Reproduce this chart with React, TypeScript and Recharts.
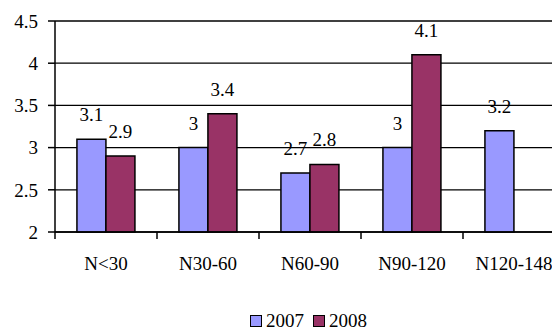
import React from 'react';
import { BarChart, Bar, XAxis, YAxis, CartesianGrid, LabelList, Legend } from 'recharts';

const categories = ['N<30', 'N30-60', 'N60-90', 'N90-120', 'N120-148'];
const values2007 = [3.1, 3, 2.7, 3, 3.2];
const values2008: (number | null)[] = [2.9, 3.4, 2.8, 4.1, null];
const yTicks = [2, 2.5, 3, 3.5, 4, 4.5];
const seriesNames = ['2007', '2008'];
const seriesColors = ['#9999FF', '#993366'];

const data = categories.map((c, i) => ({ name: c, s2007: values2007[i], s2008: values2008[i] }));

const FONT = "Liberation Serif, 'Times New Roman', Tinos, 'DejaVu Serif', serif";

const XTick = (props: any) => {
  const { x, y, payload } = props;
  const half = payload && typeof payload.offset === 'number' ? payload.offset : 51;
  return (
    <g>
      <line x1={x - half} x2={x - half} y1={y} y2={y + 7} stroke="#000" strokeWidth={1.5} />
      <text x={x} y={y + 38} textAnchor="middle" style={{ fontFamily: FONT, fontSize: 19 }} fill="#000">
        {payload.value}
      </text>
    </g>
  );
};

const LegendContent = () => (
  <div style={{ display: 'flex', alignItems: 'center', fontFamily: FONT, fontSize: 19, lineHeight: '16px', color: '#000', whiteSpace: 'nowrap' }}>
    {seriesNames.map((n, i) => (
      <span key={n} style={{ display: 'inline-flex', alignItems: 'center', marginRight: i === 0 ? 9 : 0 }}>
        <span style={{ display: 'inline-block', width: 10, height: 10, background: seriesColors[i], border: '1.5px solid #000', marginRight: 4 }} />
        {n}
      </span>
    ))}
  </div>
);

export default function App() {
  return (
    <div style={{ width: 552, height: 322, overflow: 'hidden', position: 'relative', fontFamily: FONT }}>
      <BarChart
        width={560}
        height={322}
        data={data}
        margin={{ top: 13, right: 3, left: 0, bottom: 58 }}
        barCategoryGap="21.5%"
        barGap={0}
        style={{ fontFamily: FONT }}
      >
        <CartesianGrid vertical={false} stroke="#000" strokeWidth={1.3} />
        <XAxis
          dataKey="name"
          height={40}
          tickSize={0}
          tickMargin={0}
          tickLine={false}
          axisLine={{ stroke: '#000', strokeWidth: 1.5 }}
          tick={<XTick />}
          interval={0}
        />
        <YAxis
          width={47}
          domain={[2, 4.5]}
          ticks={yTicks}
          interval={0}
          tickSize={7}
          tickMargin={10}
          axisLine={{ stroke: '#000', strokeWidth: 1.5 }}
          tickLine={{ stroke: '#000', strokeWidth: 1.5 }}
          tick={{ style: { fontFamily: FONT }, fontSize: 19, fill: '#000' }}
        />
        <Legend
          layout="horizontal"
          verticalAlign="middle"
          align="center"
          content={<LegendContent />}
          wrapperStyle={{ position: 'absolute', left: 242, top: 305, width: 200, height: 16 }}
        />
        <Bar dataKey="s2007" name="2007" fill={seriesColors[0]} stroke="#000" strokeWidth={1.5} isAnimationActive={false}>
          <LabelList dataKey="s2007" position="top" offset={18} fill="#000" style={{ fontFamily: FONT }} fontSize={19} />
        </Bar>
        <Bar dataKey="s2008" name="2008" fill={seriesColors[1]} stroke="#000" strokeWidth={1.5} isAnimationActive={false}>
          <LabelList dataKey="s2008" position="top" offset={18} fill="#000" style={{ fontFamily: FONT }} fontSize={19} />
        </Bar>
      </BarChart>
    </div>
  );
}
